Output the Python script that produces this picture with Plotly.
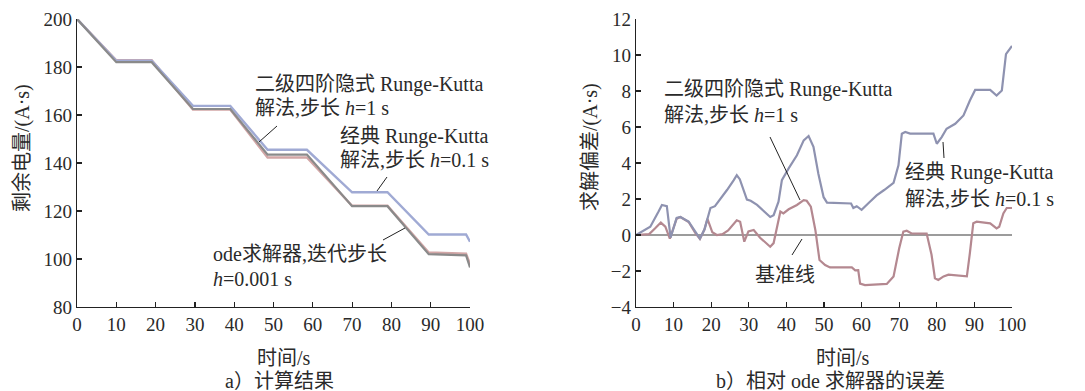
import plotly.graph_objects as go

W, H = 1085, 391

# ---------------- data: (a) 计算结果 ----------------
t_a = [0, 10, 19, 29.5, 39, 48.5, 58.5, 70, 79, 89.5, 99, 100]
ode_a = [200, 182, 182, 162.5, 162.5, 143.5, 143.5, 122, 122, 102, 101.5, 96.5]
classic_a = [200, 182.6, 182.6, 163.8, 163.8, 145.5, 145.5, 127.8, 127.8, 110.2, 110.2, 107.2]
implicit_a = [200, 182.8, 182.8, 162.3, 162.3, 142.3, 142.3, 122.2, 122.2, 102.7, 102.2, 97.8]

# ---------------- data: (b) 相对 ode 求解器的误差 ----------------
t_up = [0, 3.8, 6, 6.9, 8.2, 9.2, 10.8, 11.8, 14, 15.8, 17, 18.2, 19, 19.8, 21, 22.9, 24.2, 26,
        26.8, 27.6, 29.5, 30.5, 32.2, 35.7, 36.6, 37.9, 38.8, 40.6, 42.8, 44.6, 45.9, 47.2, 48.5,
        49.9, 50.8, 57.2, 57.8, 58.7, 60, 61.8, 64, 66, 68.5, 69.8, 70.7, 71.6, 72.9, 79.1, 80,
        81.3, 82.6, 84.9, 87.1, 88.8, 90.2, 94.2, 95.9, 97.3, 98.4, 100]
e_up = [0, 0.46, 1.3, 1.67, 1.6, -0.15, 0.95, 1.0, 0.75, 0.15, -0.2, 0.3, 0.95, 1.5, 1.6, 2.1, 2.5,
        3.05, 3.32, 3.1, 1.97, 1.9, 1.67, 1.0, 1.1, 1.85, 3.05, 3.7, 4.43, 5.26, 5.5, 4.9, 3.4,
        2.1, 1.8, 1.75, 1.5, 1.6, 1.4, 1.76, 2.2, 2.5, 2.9, 3.87, 5.63, 5.72, 5.63, 5.63, 5.07,
        5.44, 5.9, 6.18, 6.64, 7.47, 8.06, 8.06, 7.75, 8.03, 10.05, 10.5]

t_lo = [0, 3.5, 5.1, 6.6, 7.8, 9, 10.8, 11.8, 14, 15.8, 17, 18.2, 19, 20.3, 21.5, 23, 24.5, 26,
        26.8, 27.7, 28.8, 29.9, 31.3, 33, 35.7, 36.6, 38.4, 39.2, 40.6, 42.8, 44.6, 45.4, 46.5,
        47.7, 48.8, 50.3, 51.6, 57.4, 58.3, 59.1, 59.6, 60.9, 66.7, 68.5, 70, 71.1, 72, 73.3,
        77.3, 78.6, 79.5, 80.4, 81.8, 83.1, 88, 88.8, 89.7, 90.6, 94.2, 95.9, 96.6, 97.7, 98.6, 100]
e_lo = [0, 0.05, 0.37, 0.69, 0.46, -0.2, 0.9, 1.0, 0.72, 0.1, -0.22, 0.3, 0.9, 0.15, 0, 0.05,
        0.25, 0.65, 0.82, 0.74, -0.37, 0.2, 0.28, -0.15, -0.65, -0.45, 1.3, 1.2, 1.43, 1.67, 1.94,
        1.9, 1.57, 0.28, -1.39, -1.67, -1.8, -1.8, -1.96, -1.95, -2.7, -2.78, -2.72, -2.3, -0.74,
        0.19, 0.24, 0.09, 0.08, -1.1, -2.4, -2.5, -2.3, -2.2, -2.3, -1.0, 0.65, 0.74, 0.65, 0.37,
        0.46, 1.2, 1.5, 1.5]

t_base = [0, 100]
e_base = [0, 0]

# ---------------- helpers ----------------
def fx(x):
    return x / W

def fy(y):
    return 1 - y / H

SERIF = "Liberation Serif, Noto Sans CJK SC, serif"
TXT = "#2a2a2a"

fig = go.Figure()

# left panel lines
fig.add_trace(go.Scatter(x=t_a, y=implicit_a, mode="lines", line=dict(color="#d2a6a6", width=2.4),
                         xaxis="x", yaxis="y", showlegend=False, hoverinfo="skip"))
fig.add_trace(go.Scatter(x=t_a, y=classic_a, mode="lines", line=dict(color="#a0aad4", width=2.4),
                         xaxis="x", yaxis="y", showlegend=False, hoverinfo="skip"))
fig.add_trace(go.Scatter(x=t_a, y=ode_a, mode="lines", line=dict(color="#8a8a8a", width=2.2),
                         xaxis="x", yaxis="y", showlegend=False, hoverinfo="skip"))

# right panel lines
fig.add_trace(go.Scatter(x=t_base, y=e_base, mode="lines", line=dict(color="#9c9c9c", width=2.2),
                         xaxis="x2", yaxis="y2", showlegend=False, hoverinfo="skip"))
fig.add_trace(go.Scatter(x=t_lo, y=e_lo, mode="lines", line=dict(color="#b48890", width=2.2),
                         xaxis="x2", yaxis="y2", showlegend=False, hoverinfo="skip"))
fig.add_trace(go.Scatter(x=t_up, y=e_up, mode="lines", line=dict(color="#8e92b0", width=2.2),
                         xaxis="x2", yaxis="y2", showlegend=False, hoverinfo="skip"))

axis_common = dict(showline=True, linecolor="#222", linewidth=1.2, ticks="inside", ticklen=5,
                   tickcolor="#222", tickwidth=1.2, showgrid=False, zeroline=False,
                   automargin=False,
                   tickfont=dict(family=SERIF, size=19, color=TXT))

fig.update_layout(
    width=W, height=H, margin=dict(l=0, r=0, t=0, b=0, autoexpand=False),
    paper_bgcolor="white", plot_bgcolor="white",
    xaxis=dict(domain=[fx(77), fx(470)], range=[0, 100], tick0=0, dtick=10, anchor="y", **axis_common),
    yaxis=dict(domain=[fy(307), fy(19)], range=[80, 200], tick0=80, dtick=20, anchor="x", **axis_common),
    xaxis2=dict(domain=[fx(636), fx(1012)], range=[0, 100], tick0=0, dtick=10, anchor="y2", **axis_common),
    yaxis2=dict(domain=[fy(307), fy(19)], range=[-4, 12], tick0=-4, dtick=2, anchor="x2", **axis_common),
)

# text annotations (positions in pixels)
def txt(x, y, s, anchor="left", angle=0):
    fig.add_annotation(x=fx(x), y=fy(y), xref="paper", yref="paper", text=s, showarrow=False,
                       xanchor=anchor, yanchor="middle", textangle=angle,
                       font=dict(family=SERIF, size=20, color=TXT))

# axis titles & captions
txt(284, 358, "时间/s", anchor="center")
txt(843, 358, "时间/s", anchor="center")
txt(279, 381, "a）计算结果", anchor="center")
txt(830, 381, "b）相对 ode 求解器的误差", anchor="center")
txt(22, 148, "剩余电量/(A·s)", anchor="center", angle=-90)
txt(591, 147, "求解偏差/(A·s)", anchor="center", angle=-90)

# left panel labels
txt(253, 85, "二级四阶隐式 Runge-Kutta")
txt(253, 108, "解法,步长 <i>h</i>=1 s")
txt(338, 137, "经典 Runge-Kutta")
txt(338, 160, "解法,步长 <i>h</i>=0.1 s")
txt(211, 254, "ode求解器,迭代步长")
txt(211, 279, "<i>h</i>=0.001 s")

# right panel labels
txt(662, 90, "二级四阶隐式 Runge-Kutta")
txt(662, 115, "解法,步长 <i>h</i>=1 s")
txt(903, 173, "经典 Runge-Kutta")
txt(903, 199, "解法,步长 <i>h</i>=0.1 s")
txt(753, 275, "基准线")

# leader lines
def seg(x0, y0, x1, y1):
    fig.add_shape(type="line", xref="paper", yref="paper", x0=fx(x0), y0=fy(y0), x1=fx(x1), y1=fy(y1),
                  line=dict(color="#222", width=1))

seg(277, 126, 259, 142)
seg(387, 177, 377, 191)
seg(383, 240, 405, 228)
seg(770, 137, 800, 200)
seg(943, 142, 944, 158)
seg(802, 239, 792, 255)

fig.write_html(
    "out.html",
    config={"displayModeBar": False, "staticPlot": True},
    post_script="document.body.style.margin='0';document.body.style.overflow='hidden';",
)
